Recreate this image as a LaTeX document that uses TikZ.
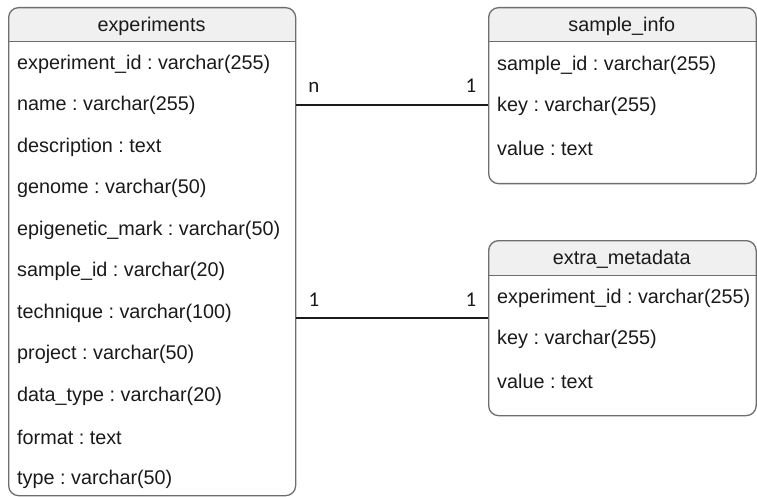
\documentclass[tikz,border=0pt]{standalone}
\usepackage{fontspec}
\setmainfont{Liberation Sans}
\newfontfamily\lblfont{Carlito}
\definecolor{bordergray}{HTML}{6E6E6E}
\definecolor{hdrfill}{HTML}{F0F0F0}
\definecolor{txt}{HTML}{1A1A1A}
\definecolor{connc}{HTML}{1A1A1A}
\tikzset{
  tablebox/.style={draw=bordergray, line width=1.3pt, rounded corners=10pt, inner sep=0pt, anchor=north west},
  hdrline/.style={draw=bordergray, line width=1pt},
  rowtext/.style={anchor=west, inner sep=0pt, text=txt, font=\fontsize{19.8}{24}\selectfont\frenchspacing},
  titletext/.style={anchor=center, inner sep=0pt, text=txt, font=\fontsize{19.8}{24}\selectfont\frenchspacing},
  conn/.style={draw=connc, line width=1.4pt},
  card/.style={inner sep=0pt, text=txt, font=\lblfont\fontsize{21}{24}\selectfont}
}
\begin{document}
\begin{tikzpicture}[x=1pt,y=-1pt]
\useasboundingbox (0,0) rectangle (757,497);
\fill[white] (0,0) rectangle (757,497);

% header fills
\begin{scope}
  \clip (0,0) rectangle (757,42);
  \fill[hdrfill, rounded corners=10pt] (8,7) rectangle (295,495);
  \fill[hdrfill, rounded corners=10pt] (488,7) rectangle (755.5,183);
\end{scope}
\begin{scope}
  \clip (0,200) rectangle (757,275);
  \fill[hdrfill, rounded corners=10pt] (488,240) rectangle (755.5,415);
\end{scope}

% table boxes
\node[tablebox, minimum width=287pt, minimum height=488pt] (exp) at (8,7) {};
\node[tablebox, minimum width=267.5pt, minimum height=176pt] (si) at (488,7) {};
\node[tablebox, minimum width=267.5pt, minimum height=175pt] (em) at (488,240) {};

% header separators
\draw[hdrline] (exp.west |- 0,42) -- (exp.east |- 0,42);
\draw[hdrline] (si.west |- 0,42) -- (si.east |- 0,42);
\draw[hdrline] (em.west |- 0,275) -- (em.east |- 0,275);

% titles
\node[titletext] (expT) at (151.5,26) {experiments};
\node[titletext] (siT) at (621.75,26) {sample\_info};
\node[titletext] (emT) at (621.75,259) {extra\_metadata};

% experiments rows
\node[rowtext] (e0) at (17,64) {experiment\_id : varchar(255)};
\node[rowtext] (e1) at (17,105.5) {name : varchar(255)};
\node[rowtext] (e2) at (17,147) {description : text};
\node[rowtext] (e3) at (17,188.5) {genome : varchar(50)};
\node[rowtext] (e4) at (17,230) {epigenetic\_mark : varchar(50)};
\node[rowtext] (e5) at (17,271.5) {sample\_id : varchar(20)};
\node[rowtext] (e6) at (17,313) {technique : varchar(100)};
\node[rowtext] (e7) at (17,354.5) {project : varchar(50)};
\node[rowtext] (e8) at (17,396) {data\_type : varchar(20)};
\node[rowtext] (e9) at (17,437.5) {format : text};
\node[rowtext] (e10) at (17,479) {type : varchar(50)};

% sample_info rows
\node[rowtext] (s0) at (497,65) {sample\_id : varchar(255)};
\node[rowtext] (s1) at (497,106.5) {key : varchar(255)};
\node[rowtext] (s2) at (497,148) {value : text};

% extra_metadata rows
\node[rowtext] (m0) at (497,298) {experiment\_id : varchar(255)};
\node[rowtext] (m1) at (497,339.5) {key : varchar(255)};
\node[rowtext] (m2) at (497,381) {value : text};

% connectors
\coordinate (c1a) at (exp.east |- 0,105);
\coordinate (c1b) at (si.west |- 0,105);
\coordinate (c2a) at (exp.east |- 0,318);
\coordinate (c2b) at (em.west |- 0,318);
\draw[conn] (c1a) -- (c1b);
\draw[conn] (c2a) -- (c2b);

% cardinalities
\node[card] (n1) at (314,87) {n};
\node[card] (n2) at (471,86) {1};
\node[card] (n3) at (314,300) {1};
\node[card] (n4) at (471,300) {1};
\end{tikzpicture}
\end{document}
